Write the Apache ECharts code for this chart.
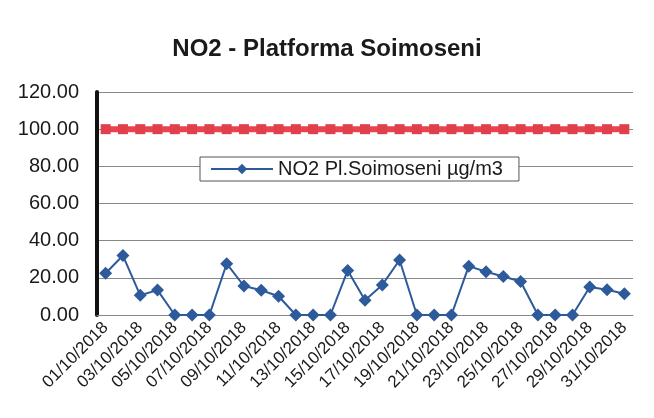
<!DOCTYPE html>
<html>
<head>
<meta charset="utf-8">
<script src="https://cdn.jsdelivr.net/npm/echarts@6/dist/echarts.min.js"></script>
<style>
  html, body { margin: 0; padding: 0; background: #fff; }
  #main { width: 654px; height: 418px; }
</style>
</head>
<body>
<div id="main"></div>
<script>
// zilele lunii octombrie 2018
var days = [];
for (var d = 1; d <= 31; d++) {
    days.push((d < 10 ? '0' + d : '' + d) + '/10/2018');
}

// NO2 masurat, ug/m3
var no2 = [22.5, 32, 10.6, 13.4, 0, 0, 0, 27.6, 15.6, 13.3, 10.1, 0, 0, 0, 24, 8, 16.2, 29.6,
    0, 0, 0, 26.3, 23.3, 20.7, 18, 0, 0, 0, 15.1, 13.6, 11.4];

// valoarea limita
var limit = [100, 100, 100, 100, 100, 100, 100, 100, 100, 100, 100, 100, 100, 100, 100, 100,
    100, 100, 100, 100, 100, 100, 100, 100, 100, 100, 100, 100, 100, 100, 100];

var yTicks = [0, 20, 40, 60, 80, 100, 120];

var myChart = echarts.init(document.getElementById('main'));
var option = {
    backgroundColor: '#fff',
    animation: false,
    title: {
        text: 'NO2 - Platforma Soimoseni',
        left: 'center',
        top: 32,
        textStyle: { fontFamily: 'Liberation Sans', fontSize: 24, fontWeight: 'bold', color: '#1a1a1a' }
    },
    legend: {
        data: ['NO2 Pl.Soimoseni µg/m3'],
        left: 200,
        top: 157,
        padding: [2, 16, 2, 10],
        backgroundColor: '#fff',
        borderColor: '#555',
        borderWidth: 1,
        borderRadius: 0,
        itemWidth: 62,
        itemHeight: 13,
        textStyle: { fontFamily: 'Liberation Sans', fontSize: 20, color: '#1a1a1a' }
    },
    grid: { left: 97, right: 21, top: 92, bottom: 103 },
    xAxis: {
        type: 'category',
        data: days,
        boundaryGap: true,
        axisLine: { show: true, lineStyle: { color: '#888', width: 1 } },
        axisTick: { show: false },
        axisLabel: {
            interval: 1,
            rotate: 45,
            margin: 10,
            fontFamily: 'Liberation Sans',
            fontSize: 17,
            color: '#1a1a1a'
        }
    },
    yAxis: {
        type: 'value',
        min: yTicks[0],
        max: yTicks[yTicks.length - 1],
        interval: 20,
        axisLine: { show: true, lineStyle: { color: '#111', width: 4 } },
        axisTick: { show: false },
        splitLine: { lineStyle: { color: '#888', width: 1 } },
        axisLabel: {
            margin: 18,
            fontFamily: 'Liberation Sans',
            fontSize: 20,
            color: '#1a1a1a',
            formatter: function(v) { return v.toFixed(2); }
        }
    },
    series: [{
        name: 'Limita',
        type: 'line',
        data: limit,
        symbol: 'rect',
        symbolSize: 10,
        showAllSymbol: true,
        lineStyle: { color: '#e8434f', width: 6 },
        itemStyle: { color: '#e0404c' }
    }, {
        name: 'NO2 Pl.Soimoseni µg/m3',
        type: 'line',
        data: no2,
        symbol: 'diamond',
        symbolSize: 13,
        showAllSymbol: true,
        lineStyle: { color: '#2d5a9b', width: 2 },
        itemStyle: { color: '#2d5a9b' }
    }]
};
myChart.setOption(option);
</script>
</body>
</html>
